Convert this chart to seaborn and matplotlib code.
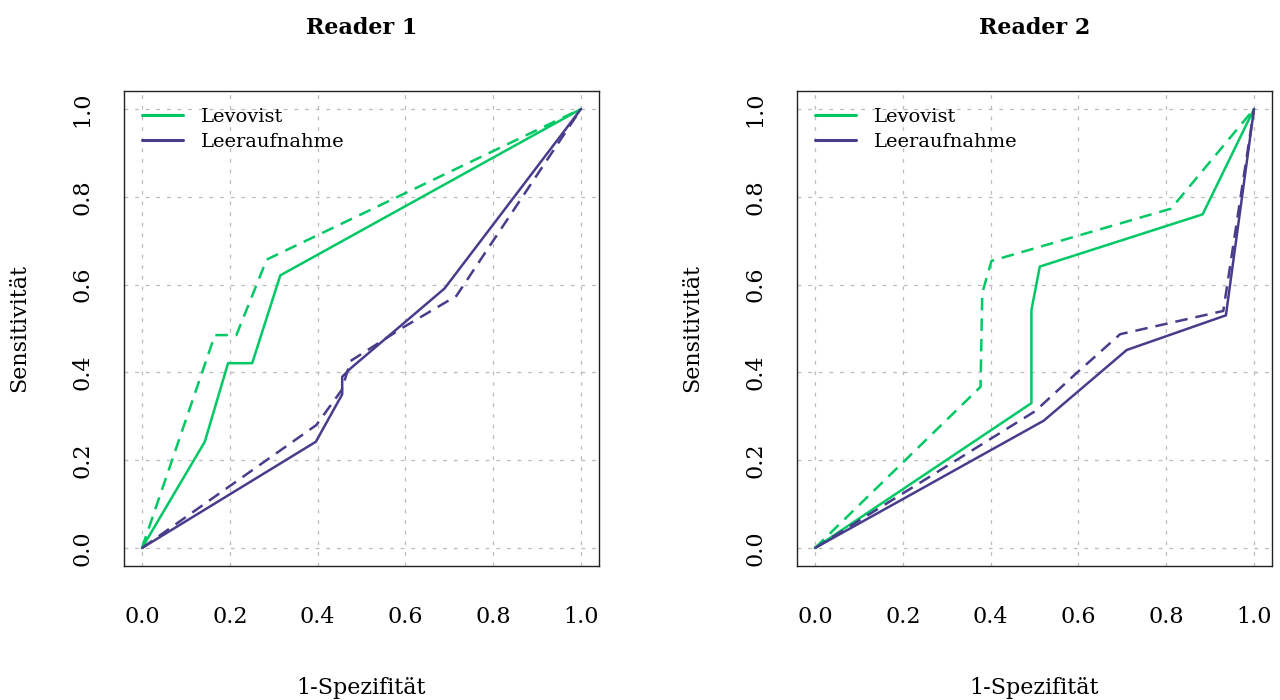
import matplotlib
matplotlib.use("Agg")
import matplotlib.pyplot as plt
import seaborn as sns

# ---- data ----
r1_lev_solid_x = [0.0, 0.143, 0.196, 0.251, 0.315, 1.0]
r1_lev_solid_y = [0.0, 0.242, 0.421, 0.421, 0.621, 1.0]
r1_lev_dash_x = [0.0, 0.166, 0.215, 0.284, 1.0]
r1_lev_dash_y = [0.0, 0.485, 0.485, 0.657, 1.0]
r1_lee_solid_x = [0.0, 0.396, 0.456, 0.456, 0.475, 0.689, 1.0]
r1_lee_solid_y = [0.0, 0.242, 0.350, 0.390, 0.409, 0.591, 1.0]
r1_lee_dash_x = [0.0, 0.397, 0.455, 0.475, 0.594, 0.716, 1.0]
r1_lee_dash_y = [0.0, 0.280, 0.360, 0.426, 0.502, 0.574, 1.0]

r2_lev_solid_x = [0.0, 0.493, 0.493, 0.512, 0.883, 1.0]
r2_lev_solid_y = [0.0, 0.330, 0.542, 0.641, 0.760, 1.0]
r2_lev_dash_x = [0.0, 0.377, 0.381, 0.402, 0.811, 1.0]
r2_lev_dash_y = [0.0, 0.367, 0.581, 0.654, 0.773, 1.0]
r2_lee_solid_x = [0.0, 0.521, 0.710, 0.936, 1.0]
r2_lee_solid_y = [0.0, 0.290, 0.451, 0.530, 1.0]
r2_lee_dash_x = [0.0, 0.502, 0.593, 0.695, 0.930, 1.0]
r2_lee_dash_y = [0.0, 0.312, 0.396, 0.487, 0.540, 1.0]

titles = ["Reader 1", "Reader 2"]
legend_labels = ["Levovist", "Leeraufnahme"]
tick_vals = [0.0, 0.2, 0.4, 0.6, 0.8, 1.0]
tick_labels = ["0.0", "0.2", "0.4", "0.6", "0.8", "1.0"]
xlabel = "1-Spezifität"
ylabel = "Sensitivität"

GREEN = "#00C865"
PURPLE = "#483D8B"

sns.set_theme(style="white")
plt.rcParams["font.family"] = ["DejaVu Serif"]
plt.rcParams["text.color"] = "black"
plt.rcParams["axes.labelcolor"] = "black"

fig = plt.figure(figsize=(12.8, 7.0), dpi=100)
ax1 = fig.add_axes([124 / 1280, 1 - 566 / 700, 475 / 1280, 475 / 700])
ax2 = fig.add_axes([797 / 1280, 1 - 566 / 700, 475 / 1280, 475 / 700])

panels = [
    (ax1, r1_lev_solid_x, r1_lev_solid_y, r1_lev_dash_x, r1_lev_dash_y,
     r1_lee_solid_x, r1_lee_solid_y, r1_lee_dash_x, r1_lee_dash_y),
    (ax2, r2_lev_solid_x, r2_lev_solid_y, r2_lev_dash_x, r2_lev_dash_y,
     r2_lee_solid_x, r2_lee_solid_y, r2_lee_dash_x, r2_lee_dash_y),
]

LW = 1.8
DASH = (0, (5.0, 3.2))
for i, (ax, lsx, lsy, ldx, ldy, esx, esy, edx, edy) in enumerate(panels):
    ax.grid(True, color="#BBBBBB", linestyle=(0, (3.0, 5.5)), linewidth=0.9)
    ax.set_axisbelow(True)
    sns.lineplot(x=lsx, y=lsy, ax=ax, color=GREEN, lw=LW, sort=False,
                 estimator=None, label=legend_labels[0])
    sns.lineplot(x=esx, y=esy, ax=ax, color=PURPLE, lw=LW, sort=False,
                 estimator=None, label=legend_labels[1])
    sns.lineplot(x=ldx, y=ldy, ax=ax, color=GREEN, lw=LW, sort=False,
                 estimator=None, linestyle=DASH)
    sns.lineplot(x=edx, y=edy, ax=ax, color=PURPLE, lw=LW, sort=False,
                 estimator=None, linestyle=DASH)
    ax.set_xlim(-0.041, 1.041)
    ax.set_ylim(-0.041, 1.041)
    ax.set_xticks(tick_vals)
    ax.set_xticklabels(tick_labels)
    ax.set_yticks(tick_vals)
    ax.set_yticklabels(tick_labels, rotation=90, va="center")
    ax.tick_params(axis="both", direction="out", length=12, width=1.2,
                   color="#555555", labelsize=16, labelcolor="black")
    ax.tick_params(axis="x", pad=17)
    ax.tick_params(axis="y", pad=10)
    for s in ax.spines.values():
        s.set_visible(True)
        s.set_color("#222222")
        s.set_linewidth(1.0)
    ax.set_xlabel(xlabel, fontsize=16, labelpad=35, color="black")
    ax.set_ylabel(ylabel, fontsize=16, labelpad=30, color="black")
    leg = ax.legend(loc="upper left", frameon=False, fontsize=14,
                    handlelength=2.1, handletextpad=0.93,
                    bbox_to_anchor=(0.038, 0.965), borderaxespad=0.0,
                    borderpad=0.0, labelspacing=0.39)
    for lh in leg.get_lines():
        lh.set_linewidth(2.2)
    for t in leg.get_texts():
        t.set_color("black")

# titles placed at the top (center ~ y=28 px)
for ax, t in zip([ax1, ax2], titles):
    bb = ax.get_position()
    fig.text(bb.x0 + bb.width / 2, 1 - 28 / 700, t, ha="center", va="center",
             fontsize=16, fontweight="bold", color="black")

fig.savefig("out.png", dpi=100)
